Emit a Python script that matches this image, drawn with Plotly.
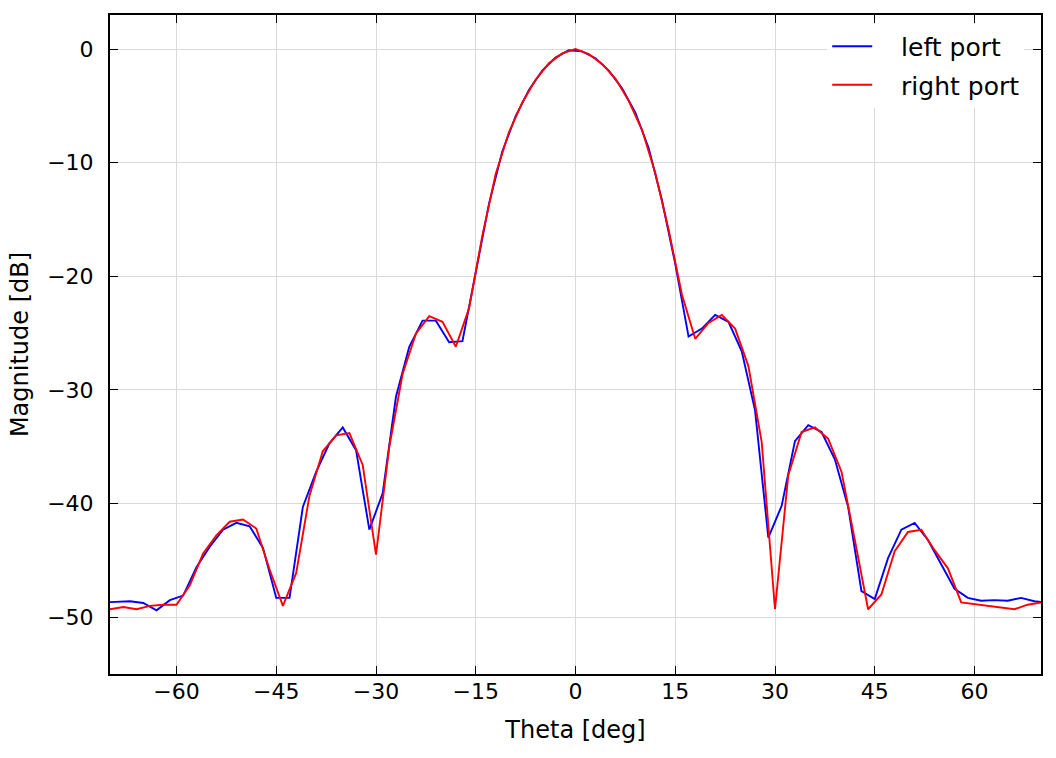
import plotly.graph_objects as go

# Left port: sampled at odd angles
theta_left = list(range(-71, 72, 2))
mag_left = [
    -48.7, -48.65, -48.6, -48.75, -49.4, -48.5, -48.1, -45.6, -43.8, -42.3,
    -41.7, -42.0, -43.9, -48.3, -48.3, -40.3, -37.2, -34.7, -33.3, -35.3,
    -42.3, -39.1, -30.6, -26.2, -23.9, -23.9, -25.8, -25.7, -19.8, -13.6,
    -9.0, -5.9, -3.6, -1.9, -0.75, -0.1, -0.2, -0.8, -1.9, -3.45,
    -5.6, -8.7, -13.3, -18.9, -25.3, -24.6, -23.4, -24.0, -26.6, -31.8,
    -43.0, -40.2, -34.5, -33.1, -33.7, -36.1, -40.3, -47.7, -48.4, -44.8,
    -42.3, -41.7, -43.2, -45.4, -47.5, -48.3, -48.55, -48.5, -48.55, -48.3,
    -48.6, -48.7,
]

# Right port: sampled at even angles
theta_right = list(range(-70, 71, 2))
mag_right = [
    -49.3, -49.1, -49.3, -49.0, -48.9, -48.9, -47.2, -44.4, -42.8, -41.6,
    -41.4, -42.2, -45.8, -49.0, -46.1, -39.3, -35.4, -34.0, -33.8, -36.6,
    -44.5, -35.0, -28.6, -25.05, -23.5, -24.0, -26.2, -22.8, -16.4, -11.0,
    -7.3, -4.7, -2.7, -1.25, -0.38, 0.0, -0.45, -1.3, -2.6, -4.55,
    -7.1, -10.9, -15.9, -21.6, -25.5, -24.1, -23.4, -24.6, -27.9, -34.6,
    -49.3, -37.5, -33.7, -33.3, -34.3, -37.2, -43.2, -49.3, -48.0, -44.2,
    -42.5, -42.3, -44.1, -45.7, -48.7, -48.85, -48.95, -49.1, -49.3, -48.9,
    -48.7,
]

x_ticks = [-60, -45, -30, -15, 0, 15, 30, 45, 60]
y_ticks = [0, -10, -20, -30, -40, -50]

FONT = "DejaVu Sans"
PAD = "\u00a0\u00a0\u00a0"

fig = go.Figure()
fig.add_trace(go.Scatter(x=theta_left, y=mag_left, mode="lines", name=PAD + "left port",
                         legendgroup="a",
                         line=dict(color="#0000ff", width=1.9)))
fig.add_trace(go.Scatter(x=theta_right, y=mag_right, mode="lines", name=PAD + "right port",
                         legendgroup="b",
                         line=dict(color="#ff0000", width=1.9)))

axis_common = dict(
    showline=True, linecolor="black", linewidth=2, mirror="ticks",
    ticks="inside", ticklen=8, tickwidth=1.2, tickcolor="black",
    showgrid=True, gridcolor="#dadada", gridwidth=1,
    zeroline=False,
    tickfont=dict(family=FONT, size=22, color="black"),
)

fig.update_xaxes(range=[-70, 70], tickvals=x_ticks,
                 title=dict(text="Theta [deg]", font=dict(family=FONT, size=24, color="black"), standoff=18),
                 ticklabelstandoff=-3, **axis_common)
fig.update_yaxes(range=[-55, 3], tickvals=y_ticks,
                 title=dict(text="Magnitude [dB]", font=dict(family=FONT, size=24, color="black"), standoff=12),
                 ticklabelstandoff=10, **axis_common)

fig.update_layout(
    width=1056, height=758,
    margin=dict(l=110, r=15, t=15, b=84),
    plot_bgcolor="white", paper_bgcolor="white",
    font=dict(family=FONT, color="black"),
    legend=dict(x=0.982, y=0.987, xanchor="right", yanchor="top",
                bgcolor="white", borderwidth=0,
                font=dict(family=FONT, size=25, color="black"),
                itemwidth=40, tracegroupgap=3),
    showlegend=True,
)

fig.write_html("out.html")
